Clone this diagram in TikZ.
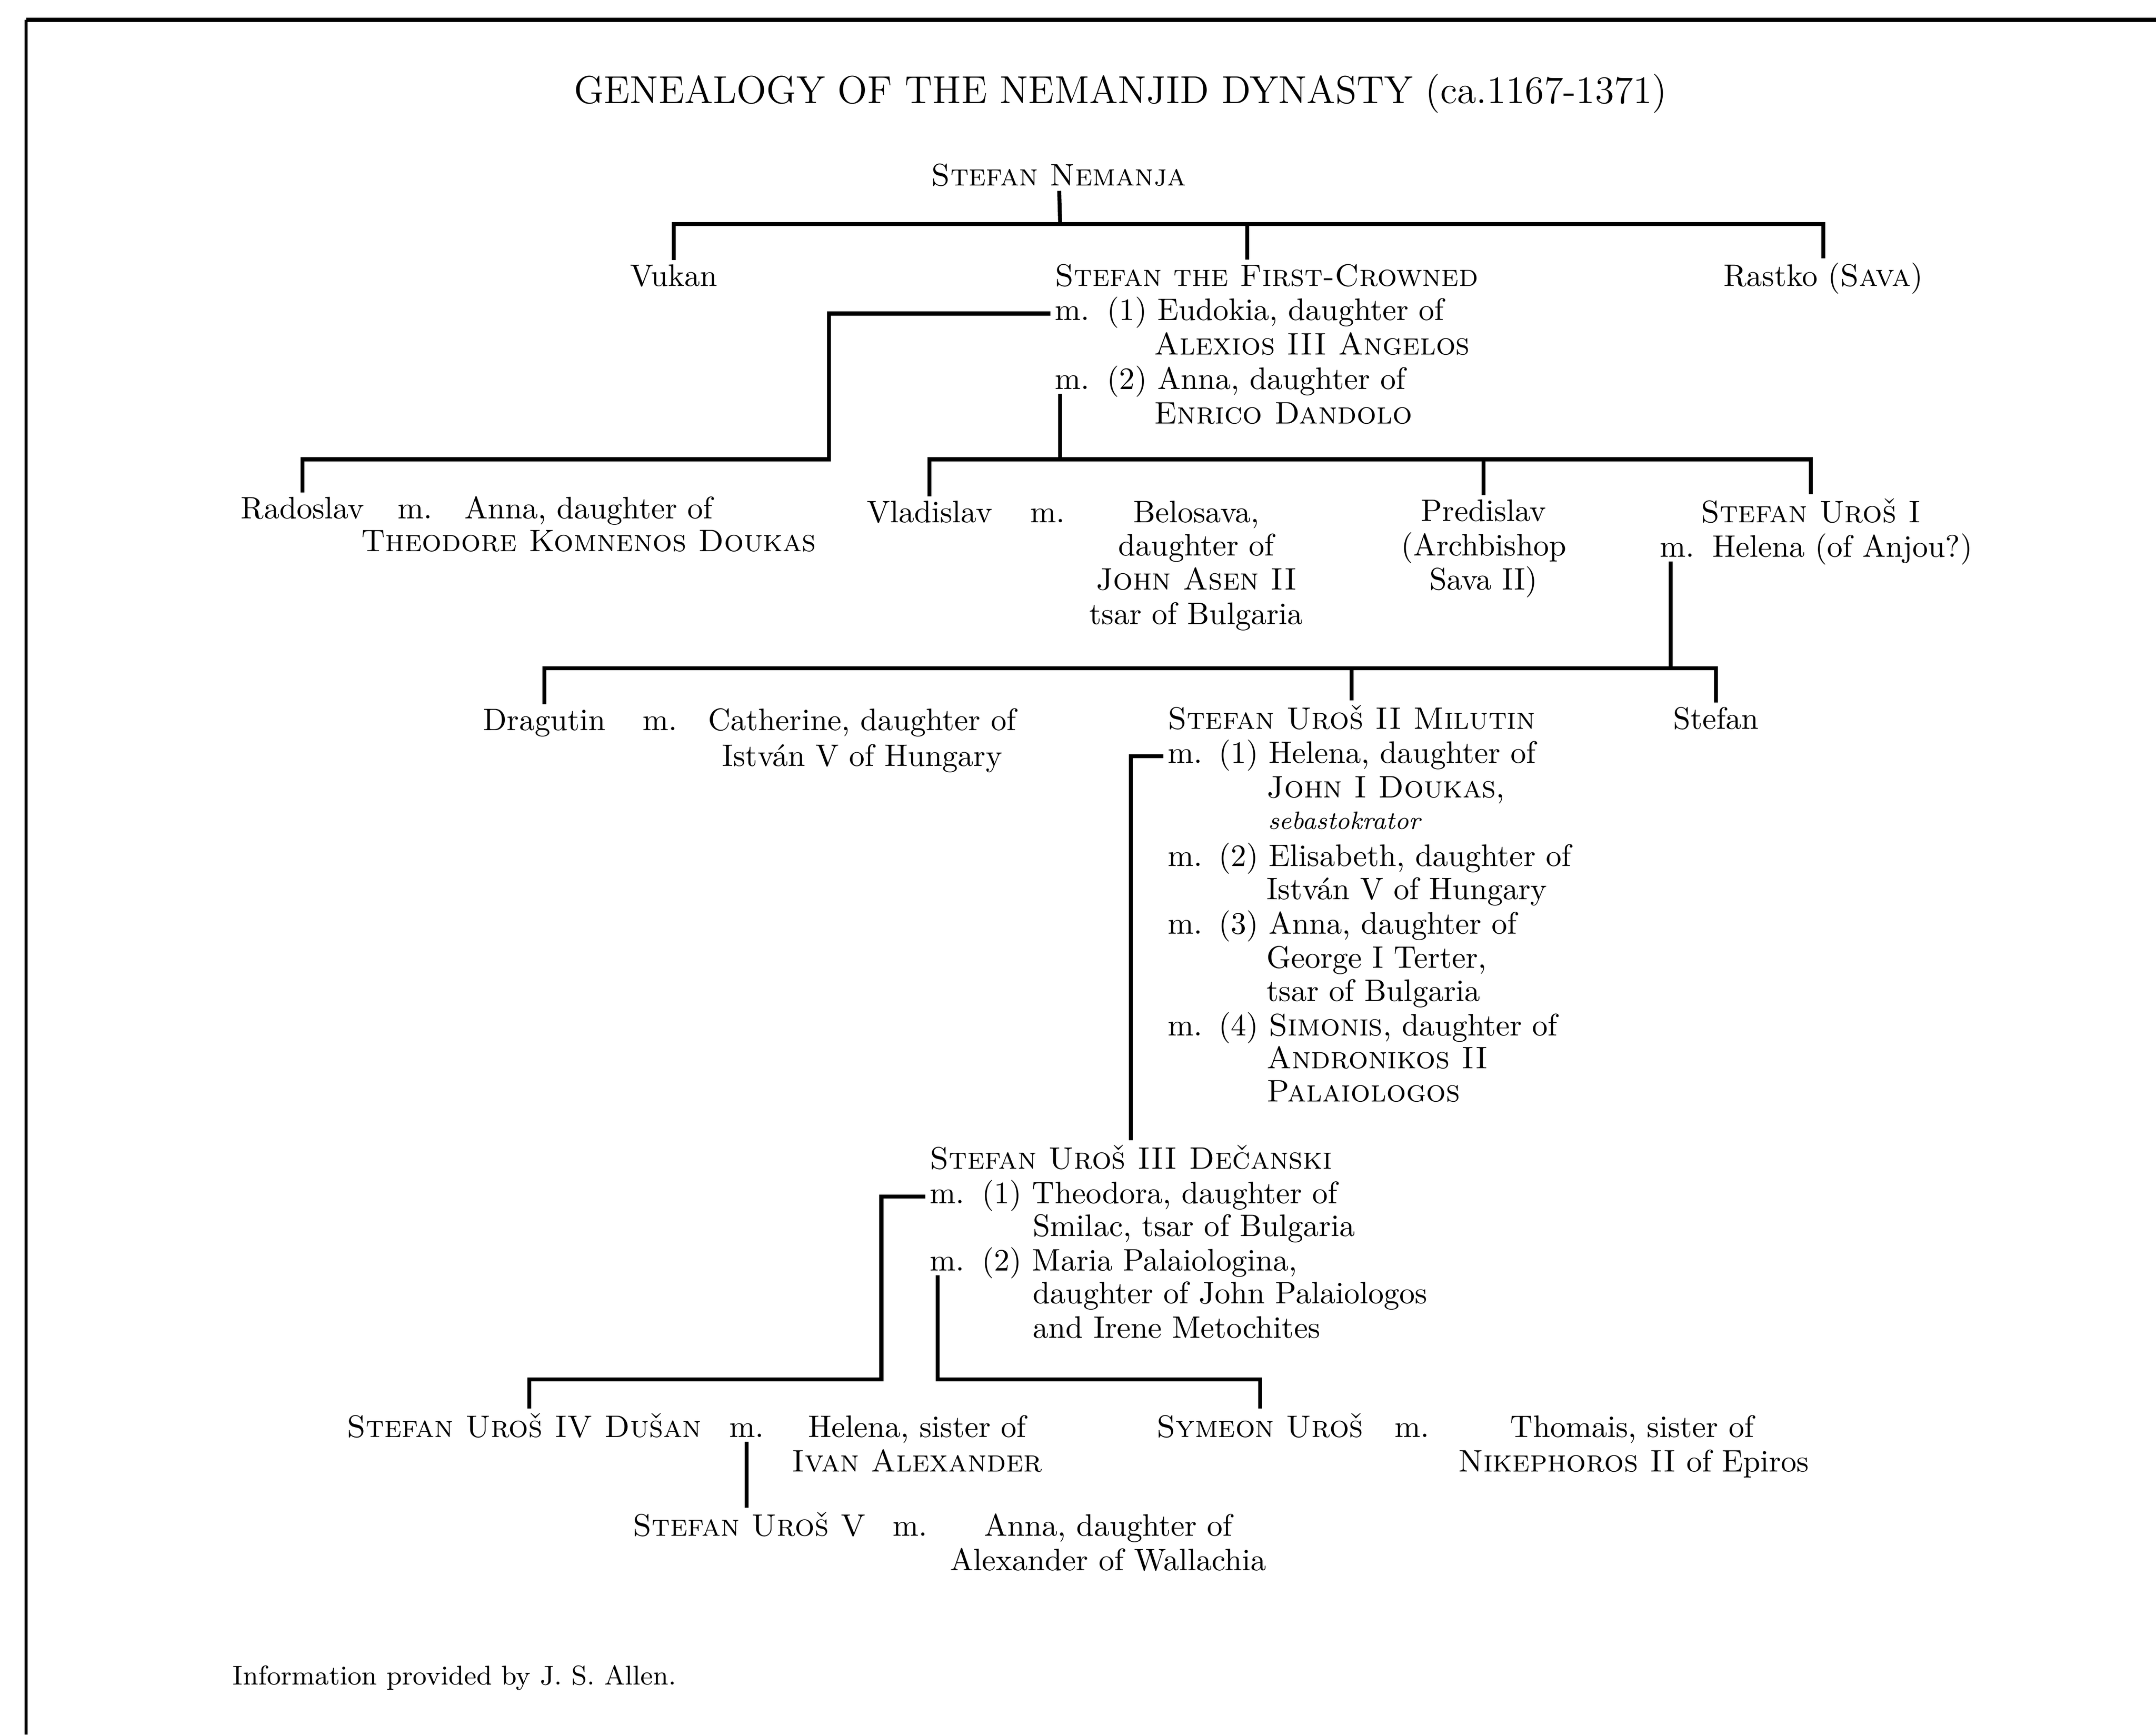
\documentclass[tikz,border=0pt]{standalone}
\usepackage{fontspec}
\newcommand\genbody{\fontsize{10.3}{11.3}\selectfont}
\newcommand\gentitle{\fontsize{12.9}{15}\selectfont}
\newcommand\gencredit{\fontsize{9.0}{11}\selectfont}
\newcommand\gensmall{\fontsize{8.3}{10}\selectfont\itshape}

\begin{document}
\begin{tikzpicture}[x=0.016014cm, y=-0.016014cm,
    every node/.style={inner sep=0pt, outer sep=1.5pt, font=\genbody},
    ctr/.style={anchor=base},
    lft/.style={anchor=base west},
    link/.style={line width=1.3pt}]
    \useasboundingbox (0,0) rectangle (1568,1261.4);
    \draw[line width=1.4pt] (1568,14.5) -- (19,14.5);
    \draw[line width=1pt] (19,14.5) -- (19,1261.4);

    \node[ctr, font=\gentitle] (Title) at (815,75) {GENEALOGY OF THE NEMANJID DYNASTY (ca.1167-1371)};
    \node[ctr] (Nemanja) at (770,135) {\textsc{Stefan Nemanja}};

    \node[ctr] (Vukan) at (490,208) {Vukan};
    \node[lft] (FC) at (764,208) {\textsc{Stefan the First-Crowned}};
    \node[ctr] (Rastko) at (1326,208) {Rastko (\textsc{Sava})};
    \node[lft] (FC m1) at (764,233) {m.};
    \node[lft] (FC w1) at (802,233) {(1) Eudokia, daughter of};
    \node[lft] (FC w1b) at (836,258) {\textsc{Alexios III Angelos}};
    \node[lft] (FC m2) at (764,283) {m.};
    \node[lft] (FC w2) at (802,283) {(2) Anna, daughter of};
    \node[lft] (FC w2b) at (836,308) {\textsc{Enrico Dandolo}};

    \node[lft] (Radoslav) at (172,377) {Radoslav};
    \node[lft] (Radoslav m) at (286,377) {m.};
    \node[ctr] (Radoslav w) at (428,377) {Anna, daughter of};
    \node[ctr] (Radoslav wb) at (428,401) {\textsc{Theodore Komnenos Doukas}};
    \node[ctr] (Vladislav) at (676,380) {Vladislav};
    \node[lft] (Vladislav m) at (746,380) {m.};
    \node[ctr] (Belosava) at (870,380) {Belosava,};
    \node[ctr] (Belosava b) at (870,404) {daughter of};
    \node[ctr] (Belosava c) at (870,429) {\textsc{John Asen II}};
    \node[ctr] (Belosava d) at (870,454) {tsar of Bulgaria};
    \node[ctr] (Predislav) at (1079,379) {Predislav};
    \node[ctr] (Predislav b) at (1079,404) {(Archbishop};
    \node[ctr] (Predislav c) at (1079,429) {Sava II)};
    \node[ctr] (Uros I) at (1317,380) {\textsc{Stefan Uroš I}};
    \node[lft] (Uros I m) at (1204,405) {m.};
    \node[lft] (Uros I w) at (1242,405) {Helena (of Anjou?)};

    \node[ctr] (Dragutin) at (396,531) {Dragutin};
    \node[lft] (Dragutin m) at (464,531) {m.};
    \node[ctr] (Catherine) at (627,531) {Catherine, daughter of};
    \node[ctr] (Catherine b) at (627,557) {István V of Hungary};
    \node[lft] (Milutin) at (846,530) {\textsc{Stefan Uroš II Milutin}};
    \node[ctr] (Stefan) at (1248,530) {Stefan};

    \node[lft] (Mil m1) at (846,555) {m.};
    \node[lft] (Mil w1) at (883,555) {(1) Helena, daughter of};
    \node[lft] (Mil w1b) at (918,580) {\textsc{John I Doukas},};
    \node[lft, font=\gensmall] (Mil w1c) at (919,603) {sebastokrator};
    \node[lft] (Mil m2) at (846,630) {m.};
    \node[lft] (Mil w2) at (883,630) {(2) Elisabeth, daughter of};
    \node[lft] (Mil w2b) at (918,654) {István V of Hungary};
    \node[lft] (Mil m3) at (846,679) {m.};
    \node[lft] (Mil w3) at (883,679) {(3) Anna, daughter of};
    \node[lft] (Mil w3b) at (918,704) {George I Terter,};
    \node[lft] (Mil w3c) at (918,728) {tsar of Bulgaria};
    \node[lft] (Mil m4) at (846,753) {m.};
    \node[lft] (Mil w4) at (883,753) {(4) \textsc{Simonis}, daughter of};
    \node[lft] (Mil w4b) at (918,777) {\textsc{Andronikos II}};
    \node[lft] (Mil w4c) at (918,801) {\textsc{Palaiologos}};

    \node[lft] (Decanski) at (673,850) {\textsc{Stefan Uroš III Dečanski}};
    \node[lft] (Dec m1) at (673,875) {m.};
    \node[lft] (Dec w1) at (711,875) {(1) Theodora, daughter of};
    \node[lft] (Dec w1b) at (748,899) {Smilac, tsar of Bulgaria};
    \node[lft] (Dec m2) at (673,924) {m.};
    \node[lft] (Dec w2) at (711,924) {(2) Maria Palaiologina,};
    \node[lft] (Dec w2b) at (748,948) {daughter of John Palaiologos};
    \node[lft] (Dec w2c) at (748,973) {and Irene Metochites};

    \node[lft] (Dusan) at (249,1045) {\textsc{Stefan Uroš IV Dušan}};
    \node[lft] (Dusan m) at (527,1045) {m.};
    \node[ctr] (Helena) at (667,1045) {Helena, sister of};
    \node[ctr] (Helena b) at (667,1070) {\textsc{Ivan Alexander}};
    \node[lft] (Symeon) at (838,1045) {\textsc{Symeon Uroš}};
    \node[lft] (Symeon m) at (1011,1045) {m.};
    \node[ctr] (Thomais) at (1187,1045) {Thomais, sister of};
    \node[ctr] (Thomais b) at (1188,1070) {\textsc{Nikephoros II} of Epiros};
    \node[lft] (Uros V) at (457,1117) {\textsc{Stefan Uroš V}};
    \node[lft] (Uros V m) at (646,1117) {m.};
    \node[ctr] (Anna V) at (806,1117) {Anna, daughter of};
    \node[ctr] (Anna V b) at (806,1142) {Alexander of Wallachia};

    \node[lft, font=\gencredit] (Credit) at (166,1225) {Information provided by J. S. Allen.};

    % Nemanja's sons
    \coordinate (Bar Nemanja) at (771,163);
    \draw[link] (Nemanja) -- (Bar Nemanja);
    \draw[link] (Vukan) |- (Bar Nemanja) -| (Rastko);
    \draw[link] (FC.north -| 907,0) -- (Bar Nemanja -| 907,0);
    % First-Crowned's sons
    \coordinate (Bar Radoslav) at (603,334);
    \coordinate (Bar Vladislav) at (771,334);
    \draw[link] (FC m1) -| (Bar Radoslav) -| (Radoslav);
    \draw[link] (FC m2.south -| Bar Vladislav) -- (Bar Vladislav);
    \draw[link] (Vladislav) |- (Bar Vladislav) -| (Uros I);
    \draw[link] (Predislav) -- (Predislav |- Bar Vladislav);
    % Uros I's sons
    \coordinate (Bar Dragutin) at (1215,486);
    \draw[link] (Uros I m.south -| Bar Dragutin) -- (Bar Dragutin);
    \draw[link] (Dragutin) |- (Bar Dragutin) -| (Stefan);
    \draw[link] (Milutin) -- (Milutin |- Bar Dragutin);
    % Milutin's son
    \draw[link] (Mil m1) -| (Decanski);
    % Decanski's sons
    \coordinate (Bar Dusan) at (641,1003);
    \coordinate (Dusan Drop) at (385,1003);
    \coordinate (Bar Symeon) at (682,1003);
    \draw[link] (Dec m1) -| (Bar Dusan) -- (Dusan Drop) -- (Dusan Drop |- Dusan.north);
    \draw[link] (Dec m2.south -| Bar Symeon) -- (Bar Symeon) -| (Symeon);
    % Dusan's son
    \draw[link] (Dusan m) -- (Dusan m |- Uros V.north);
\end{tikzpicture}
\end{document}
